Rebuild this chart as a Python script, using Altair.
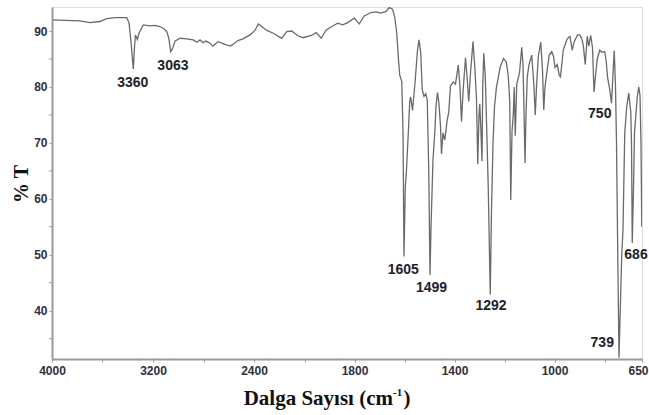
import altair as alt
import pandas as pd

# IR spectrum: wavenumber (cm-1) and transmittance (%T)
wavenumber = [
    3992, 3897, 3778, 3699, 3620, 3567, 3501, 3408, 3390, 3374, 3356, 3347, 3339, 3324,
    3311, 3277, 3224, 3184, 3145, 3113, 3089, 3073, 3060, 3046, 3026, 2986, 2933, 2881,
    2852, 2828, 2804, 2780, 2749, 2725, 2685, 2630, 2590, 2567, 2527, 2487, 2432, 2392,
    2366, 2339, 2299, 2247, 2180, 2141, 2102, 2049, 2010, 1973, 1953, 1933, 1913, 1887,
    1867, 1847, 1827, 1801, 1781, 1761, 1734, 1714, 1695, 1675, 1661, 1648, 1639, 1631,
    1624, 1619, 1611, 1606, 1602, 1597, 1592, 1584, 1579, 1575, 1568, 1558, 1548, 1542,
    1535, 1529, 1522, 1515, 1509, 1503, 1498, 1494, 1486, 1478, 1474, 1468, 1462, 1456,
    1452, 1446, 1439, 1429, 1423, 1416, 1405, 1396, 1385, 1378, 1372, 1366, 1356, 1350,
    1343, 1336, 1326, 1318, 1312, 1307, 1302, 1299, 1295, 1290, 1287, 1283, 1277, 1272,
    1265, 1257, 1252, 1246, 1240, 1232, 1217, 1204, 1193, 1185, 1179, 1175, 1170, 1165,
    1161, 1157, 1151, 1140, 1131, 1126, 1122, 1118, 1114, 1109, 1102, 1091, 1082, 1077,
    1072, 1065, 1055, 1048, 1043, 1038, 1031, 1021, 1011, 1004, 998, 989, 981, 976,
    965, 951, 945, 938, 929, 922, 908, 899, 891, 885, 877, 869, 863, 855,
    848, 842, 836, 829, 819, 811, 799, 793, 788, 779, 772, 767, 761, 756,
    752, 747, 742, 737, 731, 726, 719, 711, 703, 695, 692, 689, 684, 680,
    669, 663, 658, 654, 651,
]
transmittance = [
    92.0, 91.9, 91.8, 91.5, 91.7, 92.2, 92.4, 92.4, 91.5, 88.0, 83.2, 87.0, 89.3, 88.5,
    89.6, 91.1, 90.9, 91.0, 90.8, 90.4, 89.8, 88.5, 86.3, 86.8, 88.2, 88.7, 88.6, 88.4,
    88.0, 88.4, 87.9, 88.2, 87.8, 87.3, 88.1, 87.6, 87.3, 87.6, 88.3, 88.6, 89.3, 90.1,
    91.25, 90.8, 90.1, 89.6, 88.7, 89.9, 90.0, 89.1, 88.8, 89.2, 89.7, 88.7, 90.2, 90.9,
    91.4, 91.1, 91.5, 92.3, 91.25, 92.7, 93.3, 93.4, 93.2, 93.45, 94.2, 93.9, 92.5, 89.6,
    84.8, 82.1, 81.0, 72.0, 49.7, 62.0, 65.2, 72.5, 77.5, 78.2, 75.8, 80.7, 86.6, 88.4,
    86.0, 79.5, 78.3, 78.8, 77.7, 65.0, 46.4, 55.0, 67.0, 72.5, 76.5, 79.0, 77.0, 73.0,
    68.0, 71.8, 70.5, 74.1, 75.5, 80.2, 80.9, 80.5, 83.9, 80.0, 73.8, 79.0, 85.2, 82.0,
    77.4, 82.5, 88.1, 83.0, 77.7, 66.2, 75.0, 77.0, 73.0, 66.7, 80.0, 86.0, 82.0, 74.0,
    62.0, 42.9, 58.0, 70.0, 76.5, 80.0, 83.6, 85.1, 84.5, 82.0, 77.5, 59.8, 72.0, 75.0,
    80.0, 71.3, 80.5, 82.5, 87.1, 84.0, 76.0, 66.4, 75.0, 81.8, 84.0, 85.7, 80.0, 75.0,
    80.0, 85.4, 88.0, 83.0, 75.9, 80.0, 82.5, 85.7, 86.3, 85.5, 83.5, 84.0, 82.1, 81.8,
    86.6, 88.4, 88.8, 89.0, 86.6, 88.0, 89.3, 89.3, 88.6, 87.5, 84.0, 89.1, 87.3, 89.2,
    87.0, 79.1, 82.0, 85.0, 86.6, 86.2, 86.3, 84.5, 81.8, 79.5, 77.1, 81.5, 86.5, 80.0,
    70.0, 50.0, 31.6, 40.0, 50.0, 54.5, 71.8, 76.5, 78.9, 75.5, 70.0, 52.1, 62.0, 71.8,
    78.2, 80.0, 78.5, 70.0, 55.0,
]

# Peak annotations: text and the point (cm-1, %T) where each label sits
peak_labels = ["3360", "3063", "1605", "1499", "1292", "750", "739", "686"]
label_wn = [3360, 3042, 1605, 1492, 1254, 819, 809, 674]
label_t = [80.7, 83.8, 47.3, 44.0, 40.8, 75.2, 34.2, 50.0]

x_ticks = [4000, 3600, 3200, 2800, 2400, 2000, 1800, 1600, 1400, 1200, 1000, 800, 650]
x_labeled = [4000, 3200, 2400, 1800, 1400, 1000, 650]
y_labeled = [40, 50, 60, 70, 80, 90]
y_minor = [35, 45, 55, 65, 75, 85]

W, H = 590, 352
AXIS_GRAY = "#9a9a9a"
LABEL_COLOR = "#30303c"

spectrum = pd.DataFrame({"wn": wavenumber, "T": transmittance})
spectrum["order"] = range(len(spectrum))
peaks = pd.DataFrame({"label": peak_labels, "wn": label_wn, "T": label_t})
minor = pd.DataFrame({"T": y_minor})

# Split wavenumber axis: 4000-2000 compressed, 2000-650 expanded
x_scale = alt.Scale(domain=[4000, 2000, 650], range=[0, 252.5, W], nice=False, zero=False)
y_scale = alt.Scale(domain=[31.37, 94.29], nice=False, zero=False)

label_list = ",".join(str(v) for v in x_labeled)

x_axis = alt.Axis(
    values=x_ticks,
    format="d",
    labelExpr=f"indexof([{label_list}], datum.value) >= 0 ? datum.label : ''",
    labelOffset={"condition": {"test": "datum.value == 650", "value": -4}, "value": 0},
    title=None,
    grid=False,
    tickSize=3,
    tickColor=AXIS_GRAY,
    domainColor=AXIS_GRAY,
    domainWidth=2,
    labelFont="Liberation Sans",
    labelFontWeight="bold",
    labelFontSize=12,
    labelColor=LABEL_COLOR,
    labelPadding=3,
    labelFlush=False,
    labelOverlap=False,
)
y_axis = alt.Axis(
    values=y_labeled,
    format="d",
    title=None,
    grid=False,
    tickSize=3,
    tickColor=AXIS_GRAY,
    domainColor=AXIS_GRAY,
    domainWidth=2,
    labelFont="Liberation Sans",
    labelFontWeight="bold",
    labelFontSize=12,
    labelColor=LABEL_COLOR,
    labelPadding=2,
    labelFlush=False,
    labelOverlap=False,
)

line = alt.Chart(spectrum).mark_line(
    color="#6a6a6a", strokeWidth=1.3, clip=True, interpolate="linear"
).encode(
    x=alt.X("wn:Q", scale=x_scale, axis=x_axis),
    y=alt.Y("T:Q", scale=y_scale, axis=y_axis),
    order=alt.Order("order:Q"),
)

# Unlabelled minor ticks on the %T axis
minor_ticks = alt.Chart(minor).mark_rule(color=AXIS_GRAY, strokeWidth=1).encode(
    y=alt.Y("T:Q", scale=y_scale),
    x=alt.value(-3),
    x2=alt.value(0),
)

labels = alt.Chart(peaks).mark_text(
    font="Liberation Sans", fontWeight="bold", fontSize=14, color="#1e1e2c",
    align="center", baseline="middle",
).encode(
    x=alt.X("wn:Q", scale=x_scale),
    y=alt.Y("T:Q", scale=y_scale),
    text="label:N",
)

# Axis titles (x title carries a superscript)
title_font = dict(font="Liberation Serif", fontWeight="bold", color="#111111")
x_title_main = alt.Chart(pd.DataFrame({"t": ["Dalga Sayısı (cm"]})).mark_text(
    fontSize=21, align="right", baseline="alphabetic", **title_font
).encode(text="t:N", x=alt.value(341), y=alt.value(398))
x_title_sup = alt.Chart(pd.DataFrame({"t": ["-1"]})).mark_text(
    fontSize=11, align="left", baseline="alphabetic", **title_font
).encode(text="t:N", x=alt.value(341), y=alt.value(389))
x_title_close = alt.Chart(pd.DataFrame({"t": [")"]})).mark_text(
    fontSize=21, align="left", baseline="alphabetic", **title_font
).encode(text="t:N", x=alt.value(351.5), y=alt.value(398))
y_title = alt.Chart(pd.DataFrame({"t": ["% T"]})).mark_text(
    fontSize=20, align="center", baseline="middle", angle=270, **title_font
).encode(text="t:N", x=alt.value(-30), y=alt.value(177))

chart = alt.layer(
    line, minor_ticks, labels, x_title_main, x_title_sup, x_title_close, y_title
).properties(
    width=W,
    height=H,
    padding={"left": 52, "top": 7, "right": 7, "bottom": 56},
    autosize=alt.AutoSizeParams(type="none"),
).configure_view(
    stroke="#8c8c8c", strokeWidth=2
).configure(background="white")

chart.save("out.html", embed_options={"renderer": "svg", "actions": False})
